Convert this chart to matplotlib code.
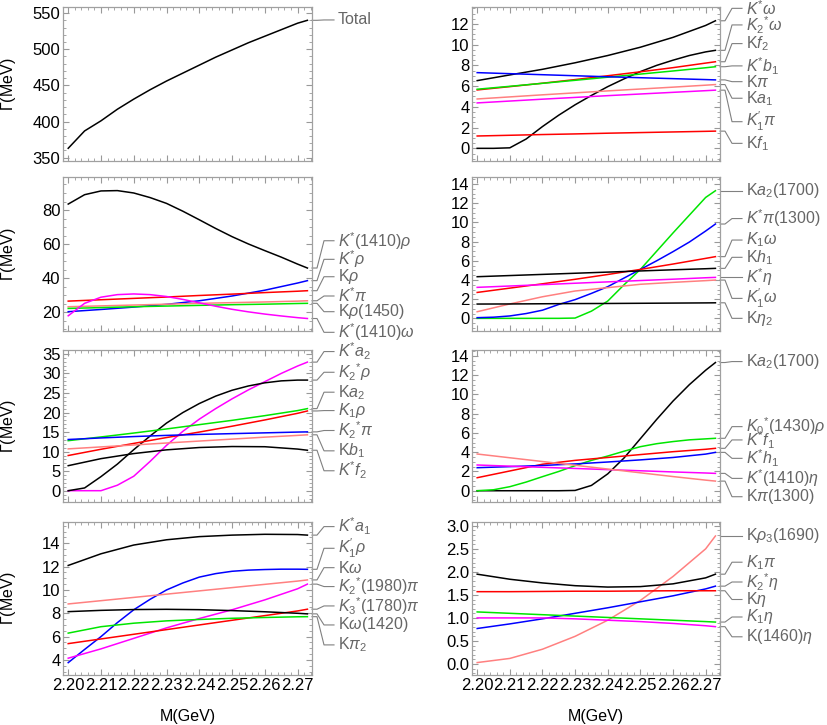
import matplotlib
matplotlib.use('Agg')
import matplotlib.pyplot as plt
from matplotlib.ticker import MultipleLocator, AutoMinorLocator, FormatStrFormatter
from matplotlib.transforms import blended_transform_factory

plt.rcParams['font.family'] = ['Liberation Sans', 'DejaVu Sans']
plt.rcParams['mathtext.fontset'] = 'custom'
plt.rcParams['mathtext.rm'] = 'Liberation Sans'
plt.rcParams['mathtext.it'] = 'Liberation Sans:italic'
plt.rcParams['mathtext.bf'] = 'Liberation Sans:bold'

# mass grids (GeV)
m_coarse = [2.20, 2.21, 2.22, 2.23, 2.24, 2.25, 2.26, 2.27, 2.273]
m_fine = [2.200, 2.205, 2.210, 2.215, 2.220, 2.225, 2.230, 2.235,
          2.240, 2.245, 2.250, 2.255, 2.260, 2.265, 2.270, 2.273]

# panel 1: total width
total = [363, 387, 401, 417, 431, 444, 456, 467, 478, 489, 499, 509, 518, 527, 536, 540]

# panel 2
kst_omega = [6.53, 7.08, 7.62, 8.25, 8.95, 9.75, 10.7, 11.85, 12.3]
k2st_omega = [0, 0, 0.05, 0.9, 2.1, 3.2, 4.2, 5.1, 5.95, 6.7, 7.4, 8.0, 8.5, 8.95, 9.3, 9.45]
k_f2 = [5.63, 5.95, 6.28, 6.63, 7.0, 7.38, 7.78, 8.22, 8.35]
kst_b1 = [5.7, 5.98, 6.27, 6.56, 6.86, 7.16, 7.46, 7.77, 7.87]
k_pi = [7.3, 7.2, 7.1, 7.0, 6.9, 6.81, 6.72, 6.63, 6.6]
k_a1 = [4.76, 4.96, 5.16, 5.35, 5.54, 5.72, 5.9, 6.09, 6.15]
k1p_pi = [4.38, 4.56, 4.74, 4.91, 5.08, 5.24, 5.4, 5.56, 5.61]
k_f1 = [1.19, 1.26, 1.33, 1.39, 1.46, 1.52, 1.58, 1.64, 1.66]

# panel 3
kst1410_rho = [83.5, 89.0, 91.2, 91.4, 90.0, 87.3, 83.9, 79.3, 74.3, 69.2, 64.4, 60.1, 56.2, 52.4, 48.3, 46.0]
kst_rho = [20.4, 21.7, 23.1, 24.7, 26.8, 29.6, 33.0, 37.2, 38.6]
k_rho = [26.6, 27.4, 28.2, 29.0, 29.9, 30.7, 31.6, 32.4, 32.7]
kst_pi = [23.3, 23.8, 24.3, 24.8, 25.3, 25.7, 26.1, 26.6, 26.8]
k_rho1450 = [22.3, 22.8, 23.3, 23.7, 24.1, 24.5, 24.8, 25.2, 25.3]
kst1410_omega = [18.0, 25.3, 28.9, 30.4, 30.8, 30.4, 29.3, 27.6, 25.6, 23.6, 21.8, 20.3, 19.0, 17.9, 16.9, 16.4]

# panel 4
k_a2_1700 = [0, 0, 0, 0, 0, 0, 0.03, 0.75, 1.8, 3.5, 5.1, 7.0, 8.9, 10.75, 12.6, 13.3]
kst_pi1300 = [0.07, 0.12, 0.25, 0.5, 0.85, 1.45, 1.95, 2.6, 3.3, 4.2, 5.1, 6.0, 6.95, 7.95, 9.1, 9.83]
k1_omega = [2.7, 3.15, 3.6, 4.07, 4.57, 5.1, 5.66, 6.25, 6.43]
k_h1 = [4.34, 4.46, 4.58, 4.7, 4.82, 4.94, 5.06, 5.17, 5.21]
kst_eta = [3.23, 3.37, 3.51, 3.66, 3.8, 3.94, 4.08, 4.23, 4.27]
k1p_omega = [0.69, 1.5, 2.25, 2.85, 3.2, 3.55, 3.75, 3.93, 3.99]
k_eta2 = [1.49, 1.5, 1.52, 1.54, 1.55, 1.57, 1.59, 1.61, 1.62]

# panel 5
kst_a2 = [0, 0, 0, 1.4, 3.7, 7.5, 11.6, 15.2, 18.3, 21.0, 23.5, 25.8, 27.9, 30.0, 31.9, 32.9]
k2st_rho = [0, 0.7, 3.6, 6.8, 10.5, 14.0, 17.3, 20.0, 22.3, 24.2, 25.7, 26.8, 27.6, 28.1, 28.3, 28.3]
k_a2 = [12.8, 13.75, 14.75, 15.8, 16.9, 18.0, 19.2, 20.5, 21.0]
k1_rho = [9.0, 10.6, 12.1, 13.6, 15.0, 16.5, 18.1, 19.8, 20.4]
k2st_pi = [13.1, 13.5, 13.85, 14.15, 14.4, 14.6, 14.8, 15.0, 15.05]
k_b1 = [10.7, 11.2, 11.7, 12.2, 12.7, 13.2, 13.7, 14.15, 14.3]
kst_f2 = [6.4, 8.2, 9.5, 10.45, 11.05, 11.3, 11.25, 10.65, 10.35]

# panel 6
k_a2_1700b = [0, 0, 0, 0, 0, 0, 0.03, 0.55, 1.75, 3.4, 5.4, 7.4, 9.3, 11.0, 12.5, 13.3]
k0st_rho = [0, 0.1, 0.42, 0.9, 1.46, 2.0, 2.6, 3.15, 3.6, 4.1, 4.57, 4.88, 5.1, 5.28, 5.38, 5.44]
kst_f1 = [1.35, 2.05, 2.75, 3.15, 3.45, 3.75, 4.05, 4.3, 4.4]
kst_h1 = [2.39, 2.5, 2.62, 2.78, 2.98, 3.2, 3.45, 3.8, 3.98]
kst1410_eta = [2.67, 2.55, 2.43, 2.31, 2.19, 2.07, 1.95, 1.84, 1.8]
k_pi1300 = [3.81, 3.42, 3.03, 2.64, 2.25, 1.86, 1.47, 1.1, 1.0]

# panel 7
kst_a1 = [12.1, 13.1, 13.85, 14.3, 14.57, 14.7, 14.77, 14.75, 14.7]
k1p_rho = [3.77, 4.9, 6.0, 7.2, 8.3, 9.2, 10.0, 10.6, 11.1, 11.4, 11.6, 11.7, 11.75, 11.78, 11.78, 11.77]
k_omega = [8.8, 9.08, 9.36, 9.64, 9.92, 10.2, 10.48, 10.76, 10.86]
k2st1980_pi = [4.15, 4.95, 5.85, 6.75, 7.55, 8.3, 9.15, 10.1, 10.5]
k3st1780_pi = [5.4, 5.8, 6.2, 6.6, 7.0, 7.4, 7.8, 8.2, 8.35]
k_omega1420 = [8.14, 8.25, 8.32, 8.34, 8.31, 8.23, 8.13, 8.0, 7.95]
k_pi2 = [6.3, 6.85, 7.15, 7.35, 7.47, 7.57, 7.64, 7.7, 7.71]

# panel 8
k_rho3 = [0.03, 0.12, 0.32, 0.6, 0.95, 1.38, 1.9, 2.5, 2.78]
k1_pi = [1.95, 1.84, 1.76, 1.7, 1.67, 1.68, 1.74, 1.87, 1.95]
k2st_eta = [0.77, 0.87, 0.98, 1.1, 1.22, 1.35, 1.48, 1.63, 1.69]
k_eta = [1.57, 1.57, 1.575, 1.58, 1.58, 1.585, 1.59, 1.59, 1.59]
k1_eta = [1.13, 1.1, 1.07, 1.04, 1.01, 0.98, 0.95, 0.92, 0.91]
k1460_eta = [1.0, 1.0, 1.0, 0.98, 0.95, 0.92, 0.88, 0.83, 0.81]

BK, RD, GN, BL, PK, MG = 'black', '#ff0000', '#00e600', '#0000ff', '#ff8080', '#ff00ff'

# (row, col, ylim, major step, tick format, [(m, values, colour, label, label_y)])
panels = [
    (0, 0, (345, 558), 50, '%d', [
        (m_fine, total, BK, 'Total', 540.5)]),
    (0, 1, (-1.25, 13.6), 2, '%d', [
        (m_coarse, kst_omega, BK, r'$K^{*}\omega$', 13.5),
        (m_fine, k2st_omega, BK, r'$K_2{}^{*}\omega$', 11.9),
        (m_coarse, k_f2, RD, r'$\mathrm{K}f_2$', 10.1),
        (m_coarse, kst_b1, GN, r'$K^{*}b_1$', 7.95),
        (m_coarse, k_pi, BL, r'$\mathrm{K}\pi$', 6.43),
        (m_coarse, k_a1, PK, r'$\mathrm{K}a_1$', 4.83),
        (m_coarse, k1p_pi, MG, r'$K_1^{\prime}\pi$', 2.57),
        (m_coarse, k_f1, RD, r'$\mathrm{K}f_1$', 0.48)]),
    (1, 0, (8.9, 99.2), 20, '%d', [
        (m_fine, kst1410_rho, BK, r'$K^{*}(1410)\rho$', 62.0),
        (m_coarse, kst_rho, BL, r'$K^{*}\rho$', 51.1),
        (m_coarse, k_rho, RD, r'$\mathrm{K}\rho$', 40.9),
        (m_coarse, kst_pi, PK, r'$K^{*}\pi$', 29.6),
        (m_coarse, k_rho1450, GN, r'$\mathrm{K}\rho(1450)$', 20.4),
        (m_fine, kst1410_omega, MG, r'$K^{*}(1410)\omega$', 8.3)]),
    (1, 1, (-1.35, 14.7), 2, '%d', [
        (m_fine, k_a2_1700, GN, r'$\mathrm{K}a_2(1700)$', 13.3),
        (m_fine, kst_pi1300, BL, r'$K^{*}\pi(1300)$', 10.4),
        (m_coarse, k1_omega, RD, r'$K_1\omega$', 8.16),
        (m_coarse, k_h1, BK, r'$\mathrm{K}h_1$', 6.36),
        (m_coarse, kst_eta, MG, r'$K^{*}\eta$', 4.27),
        (m_coarse, k1p_omega, PK, r'$K_1^{\prime}\omega$', 2.08),
        (m_coarse, k_eta2, BK, r'$\mathrm{K}\eta_2$', 0.0)]),
    (2, 0, (-2.97, 36.0), 5, '%d', [
        (m_fine, kst_a2, MG, r'$K^{*}a_2$', 35.6),
        (m_fine, k2st_rho, BK, r'$K_2{}^{*}\rho$', 30.3),
        (m_coarse, k_a2, GN, r'$\mathrm{K}a_2$', 25.2),
        (m_coarse, k1_rho, RD, r'$K_1\rho$', 20.5),
        (m_coarse, k2st_pi, BL, r'$K_2{}^{*}\pi$', 15.4),
        (m_coarse, k_b1, PK, r'$\mathrm{K}b_1$', 10.2),
        (m_coarse, kst_f2, BK, r'$K^{*}f_2$', 5.1)]),
    (2, 1, (-1.2, 14.6), 2, '%d', [
        (m_fine, k_a2_1700b, BK, r'$\mathrm{K}a_2(1700)$', 13.4),
        (m_fine, k0st_rho, GN, r'$K_0{}^{*}(1430)\rho$', 6.65),
        (m_coarse, kst_f1, RD, r'$K^{*}f_1$', 5.27),
        (m_coarse, kst_h1, BL, r'$K^{*}h_1$', 3.36),
        (m_coarse, kst1410_eta, MG, r'$K^{*}(1410)\eta$', 1.28),
        (m_coarse, k_pi1300, PK, r'$\mathrm{K}\pi(1300)$', -0.62)]),
    (3, 0, (2.71, 15.85), 2, '%d', [
        (m_coarse, kst_a1, BK, r'$K^{*}a_1$', 15.43),
        (m_fine, k1p_rho, BL, r'$K_1^{\prime}\rho$', 13.57),
        (m_coarse, k_omega, PK, r'$\mathrm{K}\omega$', 11.91),
        (m_coarse, k2st1980_pi, MG, r'$K_2{}^{*}(1980)\pi$', 10.29),
        (m_coarse, k3st1780_pi, RD, r'$K_3{}^{*}(1780)\pi$', 8.63),
        (m_coarse, k_omega1420, BK, r'$\mathrm{K}\omega(1420)$', 7.0),
        (m_coarse, k_pi2, GN, r'$\mathrm{K}\pi_2$', 5.29)]),
    (3, 1, (-0.24, 3.09), 0.5, '%.1f', [
        (m_coarse, k_rho3, PK, r'$\mathrm{K}\rho_3(1690)$', 2.78),
        (m_coarse, k1_pi, BK, r'$K_1\pi$', 2.21),
        (m_coarse, k2st_eta, BL, r'$K_2{}^{*}\eta$', 1.78),
        (m_coarse, k_eta, RD, r'$\mathrm{K}\eta$', 1.4),
        (m_coarse, k1_eta, GN, r'$K_1\eta$', 1.02),
        (m_coarse, k1460_eta, MG, r'$\mathrm{K}(1460)\eta$', 0.59)]),
]

W, H = 828, 725
col_x = [(63.3, 312.0), (472.3, 720.0)]
row_y = [(7.3, 161.3), (177.3, 331.3), (350.0, 502.3), (521.7, 675.0)]
FS = 11.5   # callout labels and axis titles
TFS = 12    # tick labels

fig = plt.figure(figsize=(W / 100, H / 100), dpi=100)

for row, col, ylim, step, fmt, series in panels:
    x0, x1 = col_x[col]
    y0, y1 = row_y[row]
    ax = fig.add_axes([x0 / W, 1 - y1 / H, (x1 - x0) / W, (y1 - y0) / H])
    wpx = x1 - x0
    tr = blended_transform_factory(ax.transAxes, ax.transData)
    for m, vals, c, lab, ly in series:
        ax.plot(m, vals, color=c, lw=1.1)
        ye = vals[-1]
        # callout: short step from the frame, slant to the label, then flat
        ax.plot([1, 1 + 5 / wpx, 1 + 12 / wpx, 1 + 22 / wpx], [ye, ye, ly, ly],
                transform=tr, clip_on=False, color='#808080', lw=0.8)
        ax.text(1 + 26 / wpx, ly, lab, transform=tr, va='center', ha='left',
                color='#666666', fontsize=FS, clip_on=False)
    ax.set_xlim(2.1985, 2.2744)
    ax.set_ylim(*ylim)
    ax.xaxis.set_major_locator(MultipleLocator(0.01))
    ax.xaxis.set_minor_locator(MultipleLocator(0.002))
    ax.xaxis.set_major_formatter(FormatStrFormatter('%.2f'))
    ax.yaxis.set_major_locator(MultipleLocator(step))
    ax.yaxis.set_minor_locator(AutoMinorLocator())
    ax.yaxis.set_major_formatter(FormatStrFormatter(fmt))
    ax.tick_params(which='both', direction='in', top=True, right=True,
                   color='#999999', labelsize=TFS, pad=2)
    ax.tick_params(which='major', length=4, width=0.8)
    ax.tick_params(which='minor', length=2, width=0.6)
    if row != 3:
        ax.tick_params(labelbottom=False)
    for sp in ax.spines.values():
        sp.set_color('#a0a0a0')
        sp.set_linewidth(0.9)
    if col == 0:
        fig.text(9 / W, 1 - (y0 + y1) / 2 / H, r'$\Gamma$(MeV)', rotation=90,
                 ha='center', va='center', fontsize=FS)
    if row == 3:
        fig.text((x0 + x1) / 2 / W, 1 - 717 / H, 'M(GeV)', ha='center',
                 va='center', fontsize=FS)

fig.savefig('out.png', dpi=100)
